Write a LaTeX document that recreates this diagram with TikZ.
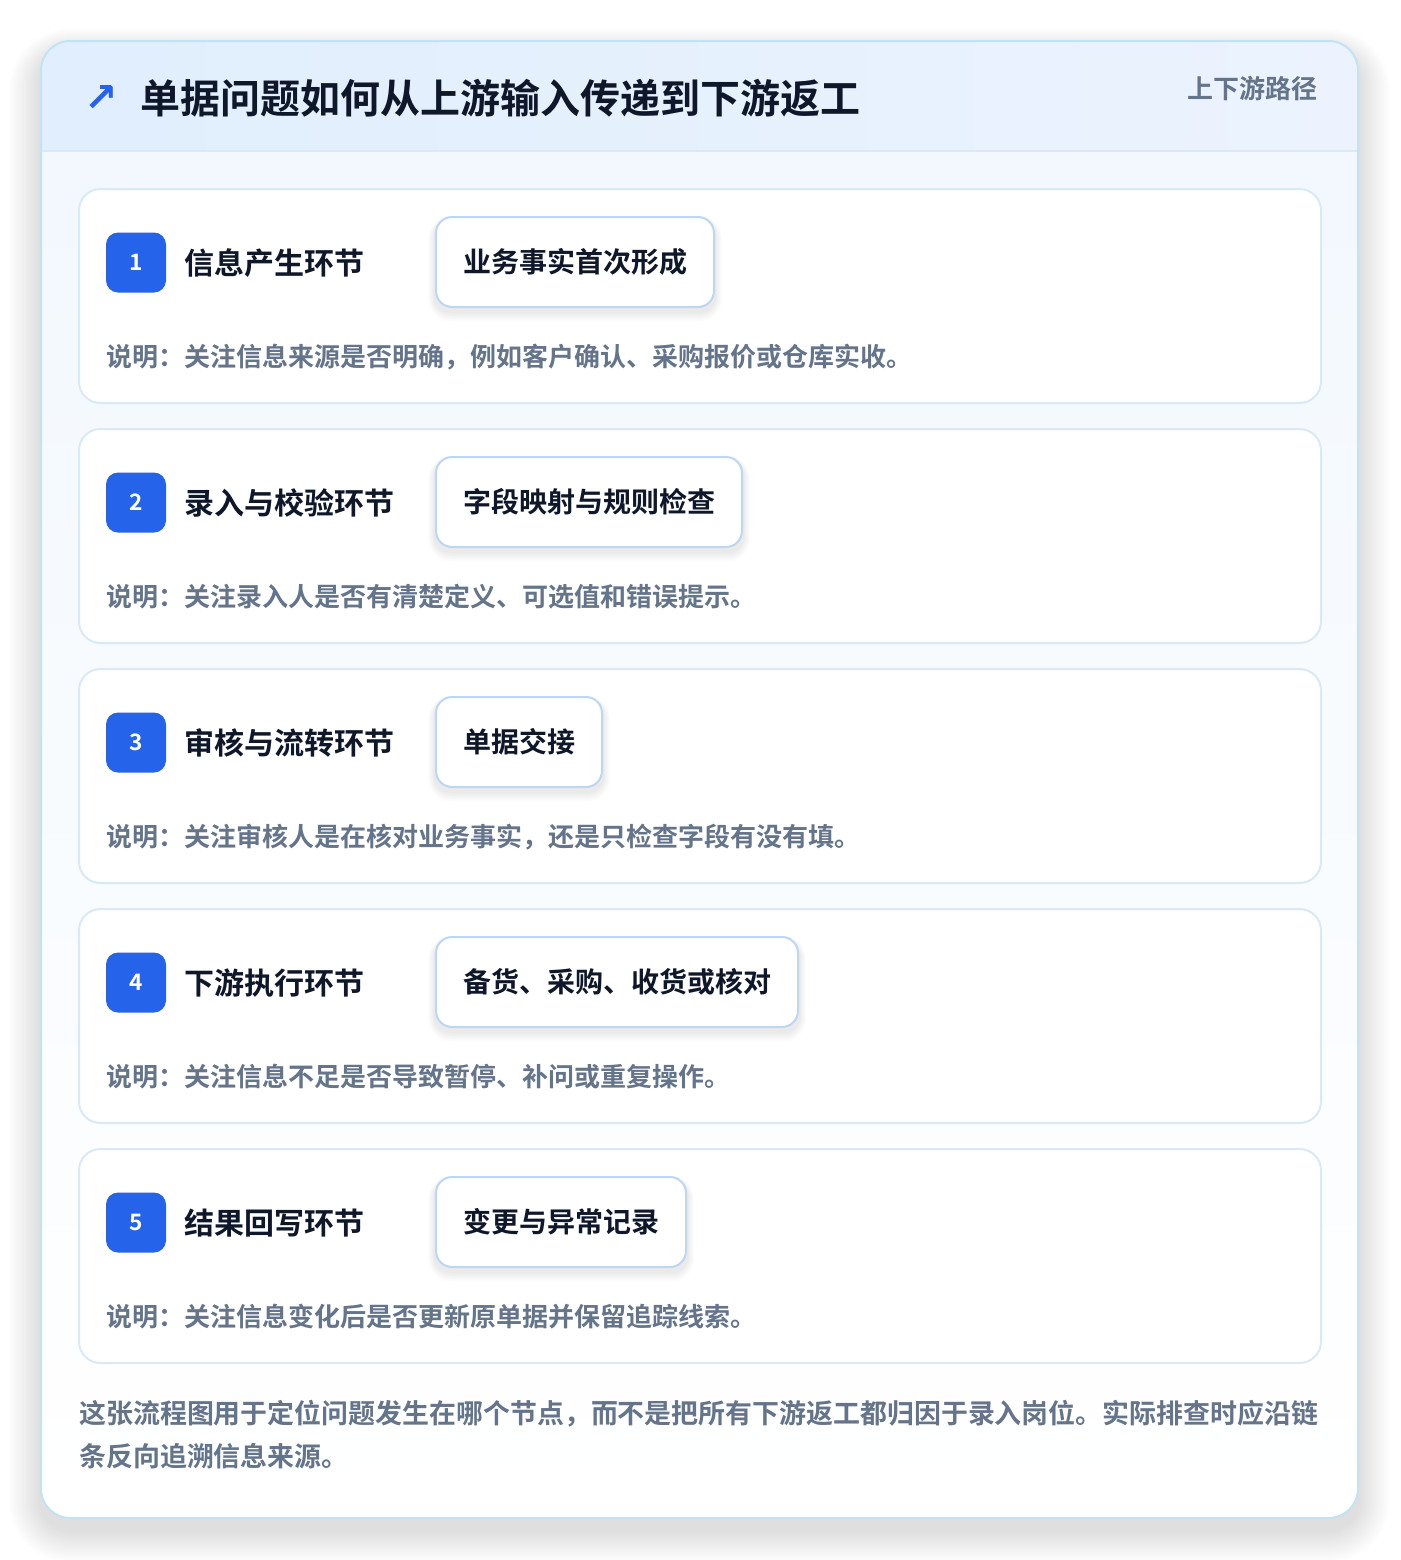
\documentclass[tikz,border=0pt]{standalone}
\usepackage{fontspec}
\setmainfont{Noto Sans CJK SC}[BoldFont={Noto Sans CJK SC Bold}]
\newfontfamily\symfont{DejaVu Sans}
\definecolor{ink}{HTML}{0F172A}
\definecolor{slate}{HTML}{64748B}
\definecolor{brand}{HTML}{2563EB}
\definecolor{frame}{HTML}{C4E2F6}
\definecolor{cardline}{HTML}{D9E9F8}
\definecolor{tagline}{HTML}{BDD6F4}
\definecolor{headl}{HTML}{E0EEFD}
\definecolor{headr}{HTML}{ECF3FE}
\definecolor{bodytop}{HTML}{F2F8FE}

\tikzset{
 card/.style={draw=cardline, line width=1.5pt, fill=white, rounded corners=16pt},
 badge/.style={fill=brand, rounded corners=9pt, minimum size=45pt, inner sep=0pt, text=white, font=\bfseries\fontsize{17}{17}\selectfont},
 stagetitle/.style={anchor=west, inner sep=0pt, text=ink, font=\bfseries\fontsize{22.5}{22.5}\selectfont},
 tagbox/.style={anchor=west, draw=tagline, line width=1.5pt, fill=white, rounded corners=12pt, minimum height=67.5pt, inner xsep=20.25pt, text=ink, font=\bfseries\fontsize{21}{21}\selectfont},
 note/.style={anchor=west, inner sep=0pt, text=slate, font=\bfseries\fontsize{19.5}{19.5}\selectfont},
 footnote/.style={anchor=west, inner sep=0pt, text=slate, font=\bfseries\fontsize{20.2}{20.2}\selectfont},
 softshadow/.style={fill=black, opacity=#1},
}

\begin{document}
\begin{tikzpicture}[x=0.75pt, y=-0.75pt]
 \useasboundingbox (0,0) rectangle (1400,1560);
 \fill[white] (0,0) rectangle (1400,1560);
 % shadow of the outer card
 \foreach \k in {1,...,16}
  \fill[softshadow=0.006, rounded corners=22pt+1.5*\k pt] (41-2*\k,41+12-1.5*\k) rectangle (1358+2*\k,1518+12+2*\k);
 % outer card
 \begin{scope}
  \clip[rounded corners=22pt] (41,41) rectangle (1358,1518);
  \fill[white] (41,41) rectangle (1358,1518);
  \shade[top color=bodytop, bottom color=white] (41,151) rectangle (1358,1518);
  \shade[left color=headl, right color=headr] (41,41) rectangle (1358,151);
  \draw[cardline, line width=1.5pt] (41,151) -- (1358,151);
 \end{scope}
 \draw[frame, line width=1.5pt, rounded corners=22pt] (41,41) rectangle (1358,1518);

 % header
 \node[inner sep=0pt, text=brand, font=\symfont\bfseries\fontsize{30}{30}\selectfont] (icon) at (101,98) {↗};
 \node[anchor=west, inner sep=0pt, text=ink, font=\bfseries\fontsize{30}{30}\selectfont] (title) at (140,98) {单据问题如何从上游输入传递到下游返工};
 \node[anchor=east, inner sep=0pt, text=slate, font=\bfseries\fontsize{19.5}{19.5}\selectfont] (route) at (1318,89) {上下游路径};

 % stages
 \foreach \i/\stage/\tag/\remark in {
  1/{信息产生环节}/{业务事实首次形成}/{说明：关注信息来源是否明确，例如客户确认、采购报价或仓库实收。},
  2/{录入与校验环节}/{字段映射与规则检查}/{说明：关注录入人是否有清楚定义、可选值和错误提示。},
  3/{审核与流转环节}/{单据交接}/{说明：关注审核人是在核对业务事实，还是只检查字段有没有填。},
  4/{下游执行环节}/{备货、采购、收货或核对}/{说明：关注信息不足是否导致暂停、补问或重复操作。},
  5/{结果回写环节}/{变更与异常记录}/{说明：关注信息变化后是否更新原单据并保留追踪线索。}} {
  \pgfmathsetmacro\yy{(\i-1)*240}
  \draw[card] (79,189+\yy) rectangle (1321,403+\yy);
  \node[badge] (b\i) at (136,262.5+\yy) {\i};
  \node[stagetitle] (s\i) at (184,263+\yy) {\stage};
  \node[tagbox, opacity=0, text opacity=0] (t\i) at (435,262+\yy) {\tag};
  \foreach \k in {1,...,7}
   \fill[softshadow=0.01, rounded corners=12pt+0.75*\k pt] ([xshift=-0.75*\k pt, yshift=-3pt+0.4*\k pt]t\i.north west) rectangle ([xshift=0.75*\k pt, yshift=-3pt-1*\k pt]t\i.south east);
  \node[tagbox] (t\i) at (435,262+\yy) {\tag};
  \node[note] (n\i) at (106,357+\yy) {\remark};
 }

 % footer
 \node[footnote] (foot1) at (79,1414) {这张流程图用于定位问题发生在哪个节点，而不是把所有下游返工都归因于录入岗位。实际排查时应沿链};
 \node[footnote] (foot2) at (79,1456) {条反向追溯信息来源。};
\end{tikzpicture}
\end{document}
